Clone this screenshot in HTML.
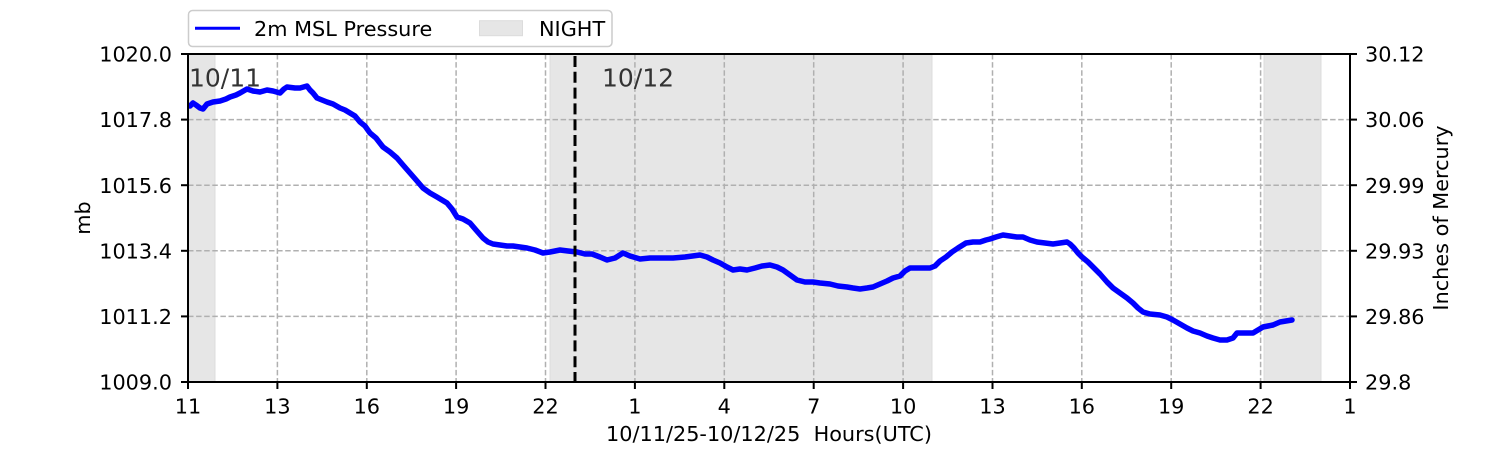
<!DOCTYPE html>
<html>
<head>
<meta charset="utf-8">
<style>
  html, body { margin: 0; padding: 0; background: #ffffff; }
  svg { display: block; }
  text { font-family: "DejaVu Sans", "Liberation Sans", sans-serif; fill: #000; }
</style>
</head>
<body>
<svg width="1500" height="450" viewBox="0 0 1500 450" xmlns="http://www.w3.org/2000/svg">
  <rect x="0" y="0" width="1500" height="450" fill="#ffffff"/>

  <!-- Night shading -->
  <g fill="#e6e6e6" stroke="#dcdcdc" stroke-width="1">
    <rect x="188" y="54" width="27" height="328"/>
    <rect x="550" y="54" width="382" height="328"/>
    <rect x="1264" y="54" width="57" height="328"/>
  </g>

  <!-- Grid -->
  <g stroke="#b0b0b0" stroke-width="1.5" stroke-dasharray="5.5,2.6" fill="none">
    <line x1="277.4" y1="54" x2="277.4" y2="382"/>
    <line x1="366.8" y1="54" x2="366.8" y2="382"/>
    <line x1="456.1" y1="54" x2="456.1" y2="382"/>
    <line x1="545.5" y1="54" x2="545.5" y2="382"/>
    <line x1="634.9" y1="54" x2="634.9" y2="382"/>
    <line x1="724.3" y1="54" x2="724.3" y2="382"/>
    <line x1="813.7" y1="54" x2="813.7" y2="382"/>
    <line x1="903.1" y1="54" x2="903.1" y2="382"/>
    <line x1="992.5" y1="54" x2="992.5" y2="382"/>
    <line x1="1081.8" y1="54" x2="1081.8" y2="382"/>
    <line x1="1171.2" y1="54" x2="1171.2" y2="382"/>
    <line x1="1260.6" y1="54" x2="1260.6" y2="382"/>
    <line x1="188" y1="119.6" x2="1350" y2="119.6"/>
    <line x1="188" y1="185.2" x2="1350" y2="185.2"/>
    <line x1="188" y1="250.8" x2="1350" y2="250.8"/>
    <line x1="188" y1="316.4" x2="1350" y2="316.4"/>
  </g>

  <!-- Day labels -->
  <text x="189" y="86.7" font-size="25" style="fill:#333">10/11</text>
  <text x="602" y="86.7" font-size="25" style="fill:#333">10/12</text>

  <!-- Data line -->
  <polyline fill="none" stroke="#0000ff" stroke-width="5.5" stroke-linejoin="round" stroke-linecap="round"
    points="190,106 193,103 196,105 200,108 203,109 207,104 210,103 213,102 220,101 226,99 230,97 236,95 240,93 247,89 253,91 260,92 267,90 273,91 280,93 284,89 287,87 295,88 300,88 307,86 310,90 313,93 317,98 322,100 327,102 333,104 340,108 345,110 350,113 355,116 360,122 365,126 370,133 376,138 383,147 390,152 397,158 403,165 410,173 417,181 423,188 430,193 437,197 442,200 447,203 452,209 457,217 463,219 470,223 476,230 483,238 488,242 493,244 500,245 507,246 513,246 520,247 527,248 535,250 543,253 550,252 560,250 568,251 577,252 585,254 592,254 600,257 607,260 615,258 623,253 630,256 640,259 650,258 660,258 673,258 685,257 700,255 707,257 713,260 720,263 727,267 733,270 740,269 747,270 755,268 762,266 770,265 777,267 783,270 790,275 797,280 805,282 813,282 820,283 830,284 838,286 847,287 853,288 860,289 867,288 873,287 880,284 887,281 893,278 900,276 905,271 910,268 920,268 930,268 935,266 940,261 946,257 952,252 958,248 966,243 973,242 980,242 986,240 990,239 996,237 1003,235 1010,236 1017,237 1023,237 1030,240 1037,242 1045,243 1053,244 1060,243 1067,242 1070,244 1074,248 1078,253 1082,257 1088,262 1093,267 1100,274 1107,282 1113,288 1120,293 1127,298 1133,303 1138,308 1143,312 1150,314 1160,315 1167,317 1173,320 1180,324 1187,328 1193,331 1200,333 1207,336 1213,338 1220,340 1227,340 1233,338 1237,333 1245,333 1253,333 1258,330 1263,327 1268,326 1273,325 1280,322 1286,321 1292,320"/>

  <!-- Black dashed vertical line -->
  <line x1="575" y1="56" x2="575" y2="382" stroke="#000" stroke-width="3" stroke-dasharray="11,4.8"/>

  <!-- Axes frame -->
  <rect x="188" y="54" width="1162" height="328" fill="none" stroke="#000" stroke-width="2"/>

  <!-- Ticks -->
  <g stroke="#000" stroke-width="2">
    <line x1="188" y1="382" x2="188" y2="389"/>
    <line x1="277.4" y1="382" x2="277.4" y2="389"/>
    <line x1="366.8" y1="382" x2="366.8" y2="389"/>
    <line x1="456.1" y1="382" x2="456.1" y2="389"/>
    <line x1="545.5" y1="382" x2="545.5" y2="389"/>
    <line x1="634.9" y1="382" x2="634.9" y2="389"/>
    <line x1="724.3" y1="382" x2="724.3" y2="389"/>
    <line x1="813.7" y1="382" x2="813.7" y2="389"/>
    <line x1="903.1" y1="382" x2="903.1" y2="389"/>
    <line x1="992.5" y1="382" x2="992.5" y2="389"/>
    <line x1="1081.8" y1="382" x2="1081.8" y2="389"/>
    <line x1="1171.2" y1="382" x2="1171.2" y2="389"/>
    <line x1="1260.6" y1="382" x2="1260.6" y2="389"/>
    <line x1="1350" y1="382" x2="1350" y2="389"/>

    <line x1="181" y1="54" x2="188" y2="54"/>
    <line x1="181" y1="119.6" x2="188" y2="119.6"/>
    <line x1="181" y1="185.2" x2="188" y2="185.2"/>
    <line x1="181" y1="250.8" x2="188" y2="250.8"/>
    <line x1="181" y1="316.4" x2="188" y2="316.4"/>
    <line x1="181" y1="382" x2="188" y2="382"/>

    <line x1="1350" y1="54" x2="1357" y2="54"/>
    <line x1="1350" y1="119.6" x2="1357" y2="119.6"/>
    <line x1="1350" y1="185.2" x2="1357" y2="185.2"/>
    <line x1="1350" y1="250.8" x2="1357" y2="250.8"/>
    <line x1="1350" y1="316.4" x2="1357" y2="316.4"/>
    <line x1="1350" y1="382" x2="1357" y2="382"/>
  </g>

  <!-- X tick labels -->
  <g font-size="20.8" text-anchor="middle">
    <text x="188" y="413.5">11</text>
    <text x="277.4" y="413.5">13</text>
    <text x="366.8" y="413.5">16</text>
    <text x="456.1" y="413.5">19</text>
    <text x="545.5" y="413.5">22</text>
    <text x="634.9" y="413.5">1</text>
    <text x="724.3" y="413.5">4</text>
    <text x="813.7" y="413.5">7</text>
    <text x="903.1" y="413.5">10</text>
    <text x="992.5" y="413.5">13</text>
    <text x="1081.8" y="413.5">16</text>
    <text x="1171.2" y="413.5">19</text>
    <text x="1260.6" y="413.5">22</text>
    <text x="1350" y="413.5">1</text>
  </g>

  <!-- Left Y tick labels -->
  <g font-size="20.8" text-anchor="end">
    <text x="172" y="61.6">1020.0</text>
    <text x="172" y="127.2">1017.8</text>
    <text x="172" y="192.8">1015.6</text>
    <text x="172" y="258.4">1013.4</text>
    <text x="172" y="324">1011.2</text>
    <text x="172" y="389.6">1009.0</text>
  </g>

  <!-- Right Y tick labels -->
  <g font-size="20.8" text-anchor="start">
    <text x="1365" y="61.6">30.12</text>
    <text x="1365" y="127.2">30.06</text>
    <text x="1365" y="192.8">29.99</text>
    <text x="1365" y="258.4">29.93</text>
    <text x="1365" y="324">29.86</text>
    <text x="1365" y="389.6">29.8</text>
  </g>

  <!-- Axis labels -->
  <text x="769" y="441" font-size="20.8" text-anchor="middle" style="white-space:pre">10/11/25-10/12/25&#160; Hours(UTC)</text>
  <text transform="translate(90,218) rotate(-90)" font-size="20.8" text-anchor="middle">mb</text>
  <text transform="translate(1448,218) rotate(-90)" font-size="20.8" text-anchor="middle">Inches of Mercury</text>

  <!-- Legend -->
  <rect x="188.5" y="10.5" width="423.5" height="36" rx="4" ry="4" fill="#ffffff" fill-opacity="0.8" stroke="#cccccc" stroke-width="1.5"/>
  <line x1="195" y1="28.3" x2="240" y2="28.3" stroke="#0000ff" stroke-width="3"/>
  <text x="254" y="35.8" font-size="20.8">2m MSL Pressure</text>
  <rect x="479.5" y="20.7" width="43" height="15" fill="#e6e6e6" stroke="#dcdcdc" stroke-width="1"/>
  <text x="539" y="35.8" font-size="20.8">NIGHT</text>
</svg>
</body>
</html>
